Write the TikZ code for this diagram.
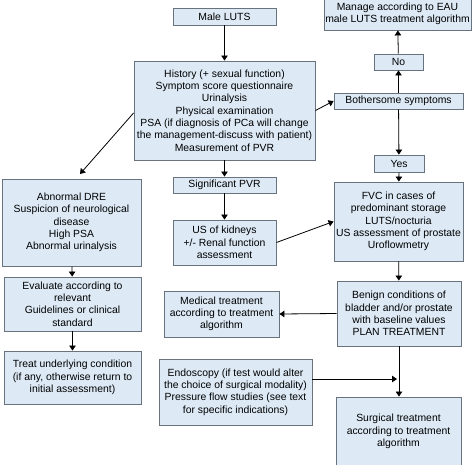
\documentclass[tikz,border=0pt]{standalone}
\usepackage{fontspec}
\setmainfont{Liberation Sans}
\usetikzlibrary{arrows.meta,calc}
\definecolor{boxfill}{RGB}{221,234,246}
\definecolor{boxline}{RGB}{105,115,125}
\begin{document}
\begin{tikzpicture}[x=1pt,y=-1pt,
  box/.style={draw=boxline,fill=boxfill,line width=0.9pt,inner sep=0pt,align=center,
    font=\fontsize{10.4pt}{12.3pt}\selectfont},
  arr/.style={draw=black,line width=0.8pt,-{Triangle[length=5pt,width=6.5pt]}}]
\useasboundingbox (0,0) rectangle (474,464);
\clip (0,0) rectangle (474,464);
% boxes: center (x,y), width, height
\node[box,minimum width=103pt,minimum height=17pt] (male) at (224.5,16.5) {Male LUTS};
\node[box,minimum width=147pt,minimum height=32pt] (manage) at (397.5,14) {Manage according to EAU\\male LUTS treatment algorithm};
\node[box,minimum width=49pt,minimum height=16pt] (no) at (398.5,62) {No};
\node[box,minimum width=129pt,minimum height=16pt] (bother) at (398.5,101) {Bothersome symptoms};
\node[box,minimum width=181pt,minimum height=99pt] (hist) at (224.5,110.5) {History (+ sexual function)\\Symptom score questionnaire\\Urinalysis\\Physical examination\\PSA (if diagnosis of PCa will change\\the management-discuss with patient)\\Measurement of PVR};
\node[box,minimum width=50pt,minimum height=17pt] (yes) at (399,163.5) {Yes};
\node[box,minimum width=139pt,minimum height=87pt] (dre) at (71.5,222.5) {Abnormal DRE\\Suspicion of neurological\\disease\\High PSA\\Abnormal urinalysis};
\node[box,minimum width=103pt,minimum height=16pt] (sig) at (224.5,185) {Significant PVR};
\node[box,minimum width=103pt,minimum height=45pt] (us) at (224.5,242.5) {US of kidneys\\+/- Renal function\\assessment};
\node[box,minimum width=129pt,minimum height=79pt] (fvc) at (398.5,221.5) {FVC in cases of\\predominant storage\\LUTS/nocturia\\US assessment of prostate\\Uroflowmetry};
\node[box,minimum width=124pt,minimum height=65pt] (benign) at (399,313.5) {Benign conditions of\\bladder and/or prostate\\with baseline values\\PLAN TREATMENT};
\node[box,minimum width=115pt,minimum height=46pt] (med) at (221.5,314) {Medical treatment\\according to treatment\\algorithm};
\node[box,minimum width=137pt,minimum height=54pt] (eval) at (72.5,304) {Evaluate according to\\relevant\\Guidelines or clinical\\standard};
\node[box,minimum width=137pt,minimum height=53pt] (treat) at (72.5,377.5) {Treat underlying condition\\(if any, otherwise return to\\initial assessment)};
\node[box,minimum width=153pt,minimum height=66pt] (endo) at (235.5,392) {Endoscopy (if test would alter\\the choice of surgical modality)\\Pressure flow studies (see text\\for specific indications)};
\node[box,minimum width=125pt,minimum height=69pt] (surg) at (398.5,431.5) {Surgical treatment\\according to treatment\\algorithm};
% connectors
\coordinate (hl) at ([yshift=-2.5pt]hist.west);
\coordinate (dretip) at (80,174);
\coordinate (ee) at ([yshift=13pt]endo.east);
\draw[arr] (male) -- (hist);
\draw[arr] (hist.east) -- (bother.west);
\draw[arr] (bother) -- (no);
\draw[arr] (no) -- (manage);
\draw[arr] (bother) -- (yes);
\draw[arr] (yes) -- (fvc);
\draw[arr] (hl) -- (dretip);
\draw[arr] (hist) -- (sig);
\draw[arr] (sig) -- (us);
\draw[arr] (us.east) -- (fvc.west);
\draw[arr] (fvc) -- (benign);
\draw[arr] (benign.west) -- (med.east);
\draw[arr] (dre) -- (eval);
\draw[arr] (eval) -- (treat);
\draw[arr] (benign.south) -- (benign.south |- surg.north);
\draw[arr] (ee) -- ($(ee -| benign.south)+(-2,0)$);
\end{tikzpicture}
\end{document}
